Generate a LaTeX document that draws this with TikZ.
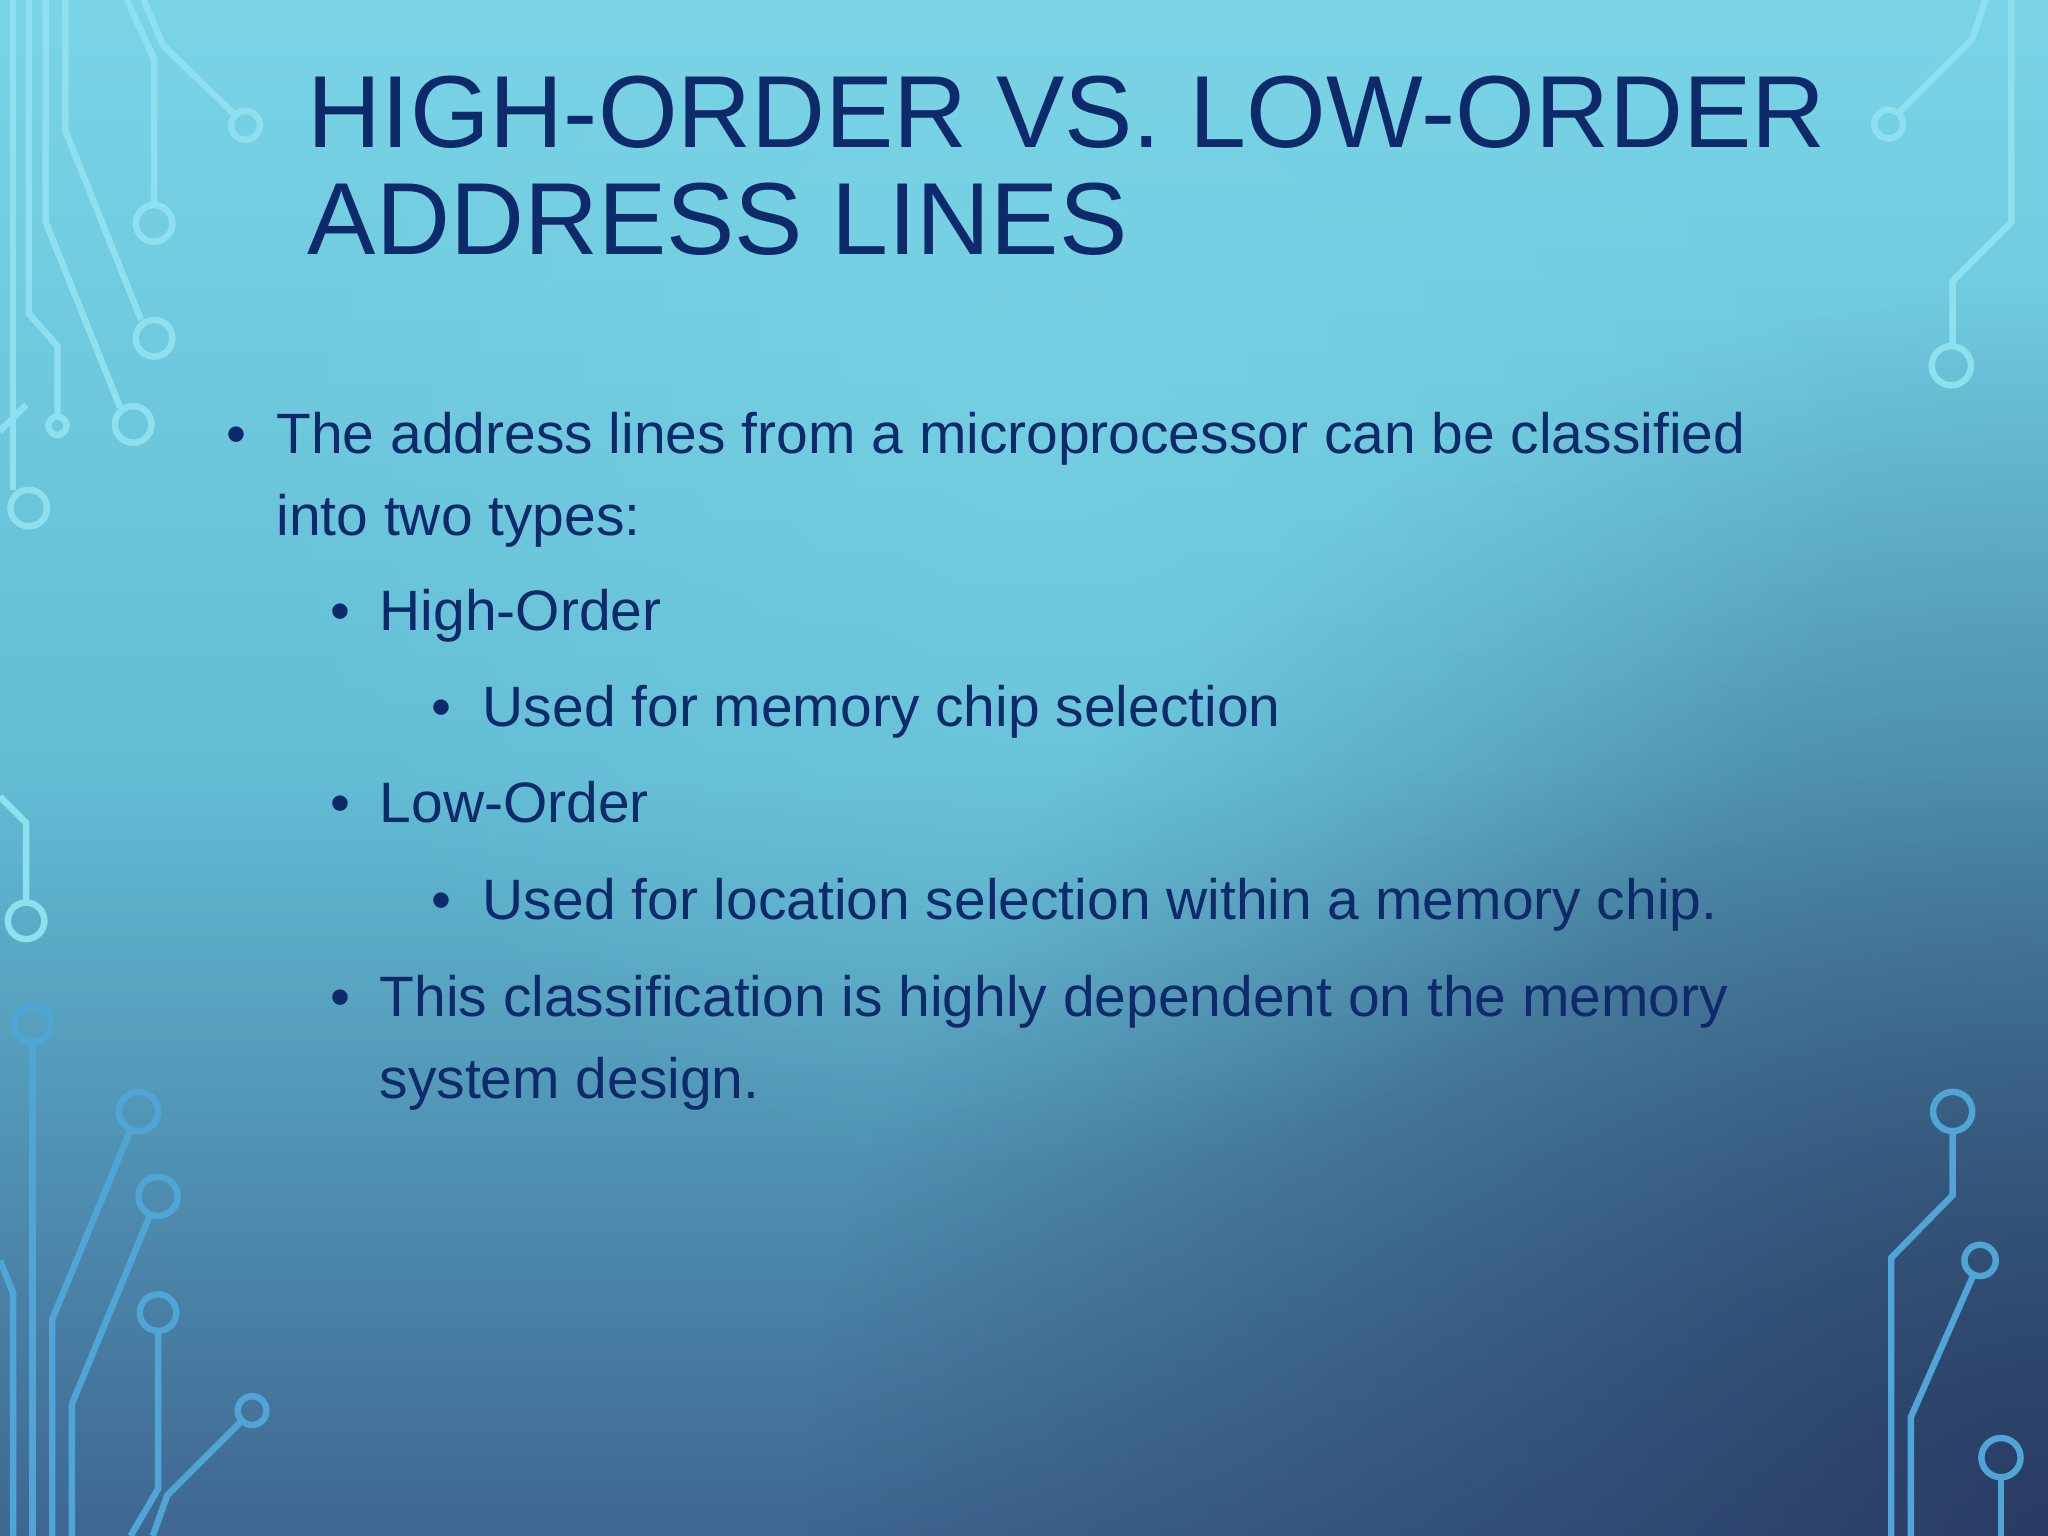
\documentclass[tikz,border=0pt]{standalone}
\usepackage{fontspec}
\usetikzlibrary{fadings}
\setmainfont{Liberation Sans}
\definecolor{txt}{HTML}{0E2A6A}
\definecolor{bgA}{HTML}{7AD4E6}
\definecolor{bgB}{HTML}{62BDD5}
\definecolor{bgC}{HTML}{3E6690}
\definecolor{bgD}{HTML}{27375F}
\definecolor{cl}{HTML}{8EE0EE}
\definecolor{cd}{HTML}{4FA6D6}
\tikzfading[name=rfade, inner color=transparent!0, outer color=transparent!100]
\begin{document}
\begin{tikzpicture}[x=0.01cm,y=-0.01cm,
  ttl/.style={anchor=base west,text=txt,font=\fontsize{22.3pt}{26pt}\selectfont,inner sep=0},
  bod/.style={anchor=base west,text=txt,font=\fontsize{12.4pt}{15pt}\selectfont,inner sep=0},
  tr/.style={line width=1.4pt},
  pad/.style={line width=1.4pt}]
\useasboundingbox (0,0) rectangle (1568,1176);
\shade[top color=bgA,bottom color=bgC,middle color=bgB] (0,0) rectangle (1568,1176);
\begin{scope}
\clip (0,0) rectangle (1568,1176);
\fill[bgD,opacity=0.9,path fading=rfade] (1568,1176) circle (950);
\fill[bgA,opacity=0.6,path fading=rfade] (800,250) circle (650);
\end{scope}
% top-left circuits
\begin{scope}[draw=cl]
\draw[tr] (110,0)--(125,35)--(180,88); \draw[pad] (188,96) circle (11);
\draw[tr] (97,0)--(118,45)--(118,157); \draw[pad] (118,171) circle (14);
\draw[tr] (50,0)--(50,100)--(108,245); \draw[pad] (118,259) circle (14);
\draw[tr] (35,0)--(35,170)--(92,312); \draw[pad] (102,325) circle (14);
\draw[tr] (22,0)--(22,240)--(44,265)--(44,319); \draw[pad] (44,326) circle (7);
\draw[tr] (10,0)--(10,375); \draw[pad] (22,389) circle (14);
\draw[tr] (0,330)--(20,310);
\draw[tr] (0,610)--(20,630)--(20,690); \draw[pad] (20,705) circle (14);
% top-right
\draw[tr] (1520,0)--(1510,30)--(1454,86); \draw[pad] (1446,95) circle (11);
\draw[tr] (1540,0)--(1540,170)--(1495,215)--(1495,265); \draw[pad] (1494,280) circle (15);
\end{scope}
\begin{scope}[draw=cd]
\draw[pad] (25,784) circle (14); \draw[tr] (25,798)--(25,1176);
\draw[pad] (106,851) circle (15); \draw[tr] (100,865)--(40,1010)--(40,1176);
\draw[pad] (121,916) circle (15); \draw[tr] (115,930)--(55,1075)--(55,1176);
\draw[pad] (121,1005) circle (14); \draw[tr] (121,1019)--(121,1140)--(100,1176);
\draw[pad] (193,1080) circle (11); \draw[tr] (185,1088)--(128,1145)--(117,1176);
\draw[tr] (0,965)--(10,990)--(10,1176);
\draw[pad] (1495,851) circle (15); \draw[tr] (1495,866)--(1495,915)--(1448,963)--(1448,1176);
\draw[pad] (1516,965) circle (12); \draw[tr] (1511,976)--(1463,1085)--(1463,1176);
\draw[pad] (1532,1116) circle (15); \draw[tr] (1532,1131)--(1532,1176);
\end{scope}
% title
\node[ttl] (t1) at (235,113) {HIGH-ORDER VS. LOW-ORDER};
\node[ttl] (t2) at (235,195) {ADDRESS LINES};
% body
\node[bod] (b1) at (173,347) {•};
\node[bod] (l1) at (211,347) {The address lines from a microprocessor can be classified};
\node[bod] (l1b) at (211,410) {into two types:};
\node[bod] (b2) at (252,483) {•};
\node[bod] (l2) at (290,483) {High-Order};
\node[bod] (b3) at (330,556) {•};
\node[bod] (l3) at (369,556) {Used for memory chip selection};
\node[bod] (b4) at (252,630) {•};
\node[bod] (l4) at (290,630) {Low-Order};
\node[bod] (b5) at (330,704) {•};
\node[bod] (l5) at (369,704) {Used for location selection within a memory chip.};
\node[bod] (b6) at (252,778) {•};
\node[bod] (l6) at (290,778) {This classification is highly dependent on the memory};
\node[bod] (l6b) at (290,841) {system design.};
\end{tikzpicture}
\end{document}
